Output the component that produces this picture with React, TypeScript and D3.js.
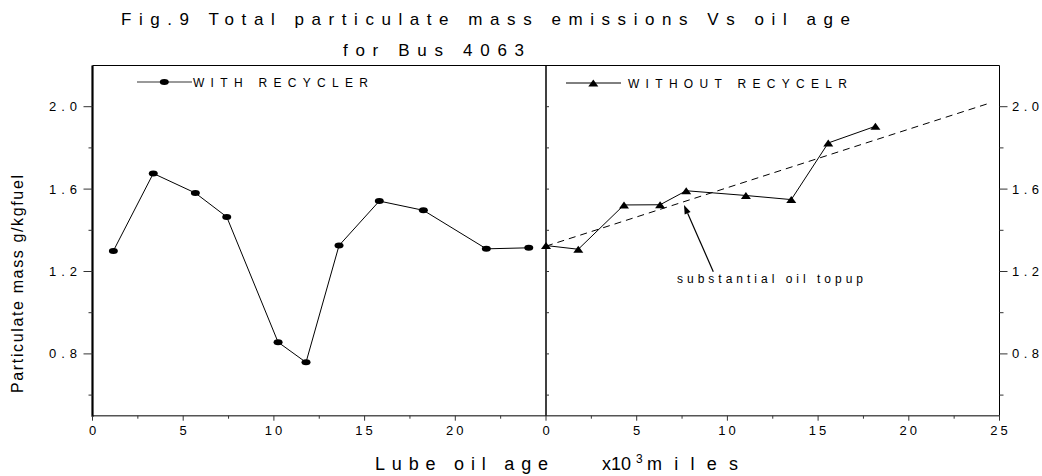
import React from "react";
import * as d3 from "d3";

// ---- data ----
const withX = [1.15, 3.35, 5.67, 7.4, 10.23, 11.77, 13.59, 15.81, 18.24, 21.71, 24.05];
const withY = [1.3, 1.676, 1.581, 1.465, 0.857, 0.759, 1.326, 1.542, 1.497, 1.31, 1.315];

const withoutX = [0, 1.78, 4.3, 6.29, 7.73, 11.02, 13.52, 15.56, 18.16];
const withoutY = [1.326, 1.308, 1.523, 1.524, 1.592, 1.569, 1.549, 1.824, 1.905];

const trendX = [0, 24.3];
const trendY = [1.323, 2.013];

const xTicksLeft = [0, 5, 10, 15, 20];
const xTicksRight = [0, 5, 10, 15, 20, 25];
const xMinor = [2.5, 7.5, 12.5, 17.5, 22.5];
const yMajor = [0.8, 1.2, 1.6, 2.0];
const yMinor = [0.6, 1.0, 1.4, 1.8];
const yAll = [0.6, 0.8, 1.0, 1.2, 1.4, 1.6, 1.8, 2.0];

const titleLine1 = "Fig.9  Total particulate mass emissions Vs  oil age";
const titleLine2 = "for Bus 4063";
const legendWith = "WITH RECYCLER";
const legendWithout = "WITHOUT RECYCELR";
const annotation = "substantial oil topup";
const yLabel = "Particulate mass  g/kgfuel";

const FONT = "'Liberation Sans', Arial, sans-serif";

export default function App() {
  const W = 1042, H = 476;
  const left = 92.5, mid = 546, right = 999.5, top = 65.5, bottom = 415.7;
  const xL = d3.scaleLinear().domain([0, 25]).range([left, mid]);
  const xR = d3.scaleLinear().domain([0, 25]).range([mid, right]);
  const y = d3.scaleLinear().domain([0.5, 2.2]).range([bottom, top]);

  const withPts = withX.map((x, i) => [xL(x), y(withY[i])] as [number, number]);
  const withoutPts = withoutX.map((x, i) => [xR(x), y(withoutY[i])] as [number, number]);
  const trendPts = trendX.map((x, i) => [xR(x), y(trendY[i])] as [number, number]);
  const line = d3.line();

  const tri = (cx: number, cy: number, w = 10, h = 7) =>
    `M${cx - w / 2},${cy + h / 2}L${cx},${cy - h / 2}L${cx + w / 2},${cy + h / 2}Z`;

  const fmt = d3.format(".1f");

  // annotation arrow
  const ax0 = 713.3, ay0 = 271.7, ax1 = 684, ay1 = 205;
  const ang = Math.atan2(ay1 - ay0, ax1 - ax0);
  const hl = 9, hw = 3.2;
  const bx = ax1 - hl * Math.cos(ang), by = ay1 - hl * Math.sin(ang);
  const head = `M${ax1},${ay1}L${bx + hw * Math.sin(ang)},${by - hw * Math.cos(ang)}L${bx - hw * Math.sin(ang)},${by + hw * Math.cos(ang)}Z`;

  return (
    <div style={{ position: "absolute", left: 0, top: 0 }}>
      <svg width={W} height={H} style={{ display: "block", background: "#fff" }} fontFamily={FONT}>
        {/* title */}
        <text x={121} y={25} fontSize={17} textLength={729} lengthAdjust="spacing" fill="#000">{titleLine1}</text>
        <text x={343} y={56} fontSize={17} textLength={181} lengthAdjust="spacing" fill="#000">{titleLine2}</text>

        {/* frame */}
        <line x1={left} x2={right} y1={top} y2={top} stroke="#000" strokeWidth={1} />
        <line x1={left} x2={right} y1={bottom} y2={bottom} stroke="#555" strokeWidth={1.5} />
        <line x1={left} x2={left} y1={top} y2={bottom + 1} stroke="#000" strokeWidth={2.2} />
        <line x1={mid} x2={mid} y1={top} y2={bottom} stroke="#000" strokeWidth={1.5} />
        <line x1={right} x2={right} y1={top} y2={bottom} stroke="#000" strokeWidth={1} />

        {/* left y ticks */}
        {yMajor.map((v) => (
          <g key={"lm" + v}>
            <line x1={left - 9} x2={left} y1={y(v)} y2={y(v)} stroke="#333" />
            <text x={77} y={y(v) + 4.5} fontSize={13} textAnchor="end" textLength={28} lengthAdjust="spacing" fill="#000">{fmt(v)}</text>
          </g>
        ))}
        {yMinor.map((v) => (
          <line key={"ln" + v} x1={left - 4} x2={left} y1={y(v)} y2={y(v)} stroke="#333" />
        ))}

        {/* right y ticks */}
        {yMajor.map((v) => (
          <g key={"rm" + v}>
            <line x1={right} x2={right + 8} y1={y(v)} y2={y(v)} stroke="#333" />
            <text x={1012} y={y(v) + 4.5} fontSize={13} textLength={27} lengthAdjust="spacing" fill="#000">{fmt(v)}</text>
          </g>
        ))}
        {yMinor.map((v) => (
          <line key={"rn" + v} x1={right} x2={right + 4} y1={y(v)} y2={y(v)} stroke="#333" />
        ))}

        {/* middle ticks */}
        {yAll.map((v) => (
          <line key={"mt" + v} x1={mid} x2={mid + 3} y1={y(v)} y2={y(v)} stroke="#333" />
        ))}

        {/* x ticks */}
        {xTicksLeft.map((v) => (
          <g key={"xl" + v}>
            <line x1={xL(v)} x2={xL(v)} y1={bottom} y2={bottom + 5} stroke="#333" />
            <text x={xL(v) + (v >= 10 ? 1 : 0)} y={435} fontSize={13} textAnchor="middle" letterSpacing={v >= 10 ? 3 : 0} fill="#000">{String(v)}</text>
          </g>
        ))}
        {xMinor.map((v) => (
          <line key={"xln" + v} x1={xL(v)} x2={xL(v)} y1={bottom} y2={bottom + 3} stroke="#333" />
        ))}
        {xTicksRight.map((v) => (
          <g key={"xr" + v}>
            <line x1={xR(v)} x2={xR(v)} y1={bottom} y2={bottom + 5} stroke="#333" />
            <text x={xR(v) + (v >= 10 ? 1 : 0)} y={435} fontSize={13} textAnchor="middle" letterSpacing={v >= 10 ? 3 : 0} fill="#000">{String(v)}</text>
          </g>
        ))}
        {xMinor.map((v) => (
          <line key={"xrn" + v} x1={xR(v)} x2={xR(v)} y1={bottom} y2={bottom + 3} stroke="#333" />
        ))}

        {/* axis labels */}
        <text transform="translate(23,284) rotate(-90)" fontSize={16} textAnchor="middle" textLength={218} lengthAdjust="spacing" fill="#000">{yLabel}</text>
        <text x={375} y={470} fontSize={18} textLength={173} lengthAdjust="spacing" fill="#000">Lube oil age</text>
        <text x={602} y={470} fontSize={18} textLength={29} lengthAdjust="spacing" fill="#000">x10</text>
        <text x={636} y={463} fontSize={12} fill="#000">3</text>
        <text x={647} y={470} fontSize={18} textLength={91} lengthAdjust="spacing" fill="#000">miles</text>

        {/* trend line */}
        <path d={line(trendPts) || ""} fill="none" stroke="#000" strokeWidth={1} strokeDasharray="7,5" />

        {/* series */}
        <path d={line(withPts) || ""} fill="none" stroke="#000" strokeWidth={1} />
        {withPts.map(([px, py], i) => (
          <ellipse key={"w" + i} cx={px} cy={py} rx={4.5} ry={3} fill="#000" />
        ))}
        <path d={line(withoutPts) || ""} fill="none" stroke="#000" strokeWidth={1} />
        {withoutPts.map(([px, py], i) => (
          <path key={"wo" + i} d={tri(px, py)} fill="#000" />
        ))}

        {/* legends */}
        <line x1={137} x2={192} y1={82} y2={82} stroke="#777" strokeWidth={1.5} />
        <ellipse cx={164.3} cy={82} rx={4.5} ry={3} fill="#000" />
        <text x={193} y={86.5} fontSize={12} textLength={175} lengthAdjust="spacing" fill="#000">{legendWith}</text>

        <line x1={566} x2={621} y1={83} y2={83} stroke="#000" strokeWidth={1} />
        <path d={tri(593.3, 83)} fill="#000" />
        <text x={628} y={87.5} fontSize={12} textLength={219} lengthAdjust="spacing" fill="#000">{legendWithout}</text>

        {/* annotation */}
        <line x1={ax0} y1={ay0} x2={bx} y2={by} stroke="#000" strokeWidth={1.2} />
        <path d={head} fill="#000" />
        <text x={677} y={283} fontSize={12} textLength={186} lengthAdjust="spacing" fill="#000">{annotation}</text>
      </svg>
    </div>
  );
}
